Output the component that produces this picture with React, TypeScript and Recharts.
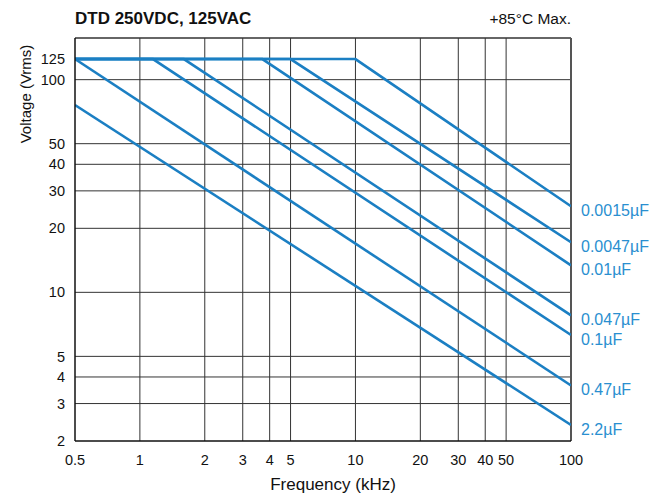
import { LineChart, Line, XAxis, YAxis, CartesianGrid, ReferenceLine, LabelList } from "recharts";

// capacitance series: flat at max voltage up to the knee, then rolling off to 100 kHz
const capacitances = ["0.0015µF", "0.0047µF", "0.01µF", "0.047µF", "0.1µF", "0.47µF", "2.2µF"];
const startVoltages = [125, 125, 125, 125, 125, 125, 76];
const kneeFrequencies = [10, 5, 3.7, 1.6, 1.15, 0.5, 0.5];
const endVoltages = [25.4, 17.2, 13.4, 7.8, 6.3, 3.65, 2.38];

const freqTicks = [0.5, 1, 2, 3, 4, 5, 10, 20, 30, 40, 50, 100];
const freqGrid = [1, 2, 3, 4, 5, 10, 20, 30, 40, 50];
const voltTicks = [2, 3, 4, 5, 10, 20, 30, 40, 50, 100, 125];
const voltGrid = [3, 4, 5, 10, 20, 30, 40, 50, 100];

const F_MIN = 0.5;
const F_MAX = 100;
const V_MIN = 2;
const V_MAX = 157;

const BLUE = "#1b7fc3";
const FONT = "'Liberation Sans', Arial, sans-serif";

const series = capacitances.map((name, i) => ({
  name,
  points: [
    { f: F_MIN, v: startVoltages[i] },
    { f: kneeFrequencies[i], v: startVoltages[i] },
    { f: F_MAX, v: endVoltages[i] },
  ],
}));

const endLabel = (name: string) => (props: any) => {
  const { x, y, index } = props;
  if (index !== 2) return null;
  return (
    <text x={x + 10} y={y + 10} fill="#2a8fd0" fontSize={16} fontFamily={FONT}>
      {name}
    </text>
  );
};

export default function App() {
  return (
    <div style={{ position: "absolute", left: 0, top: 0, width: 664, height: 496, background: "#fff", fontFamily: FONT }}>
      <div style={{ position: "absolute", left: 75, top: 19, fontSize: 17, fontWeight: "bold", color: "#111", transform: "translateY(-50%)", whiteSpace: "nowrap" }}>
        DTD 250VDC, 125VAC
      </div>
      <div style={{ position: "absolute", right: 93, top: 19, fontSize: 15.5, color: "#111", transform: "translateY(-50%)", whiteSpace: "nowrap" }}>
        +85°C Max.
      </div>
      <div
        style={{
          position: "absolute",
          left: 25,
          top: 94,
          fontSize: 15,
          color: "#111",
          whiteSpace: "nowrap",
          transform: "translate(-50%, -50%) rotate(-90deg)",
        }}
      >
        Voltage (Vrms)
      </div>
      <div style={{ position: "absolute", left: 333, top: 485, fontSize: 17, color: "#111", transform: "translate(-50%, -50%)", whiteSpace: "nowrap" }}>
        Frequency (kHz)
      </div>
      <LineChart width={664} height={496} margin={{ top: 38, right: 93, bottom: 0, left: 30 }}>
        <CartesianGrid
          stroke="#333"
          strokeWidth={1}
          horizontalValues={voltGrid}
          verticalValues={freqGrid}
        />
        <XAxis
          dataKey="f"
          type="number"
          scale="log"
          domain={[F_MIN, F_MAX]}
          ticks={freqTicks}
          interval={0}
          allowDataOverflow
          tickLine={false}
          tickMargin={8}
          axisLine={{ stroke: "#111", strokeWidth: 1.5 }}
          tick={{ fill: "#111", fontSize: 14.5, fontFamily: FONT }}
          height={55}
        />
        <YAxis
          type="number"
          scale="log"
          domain={[V_MIN, V_MAX]}
          ticks={voltTicks}
          interval={0}
          allowDataOverflow
          tickLine={false}
          tickMargin={4}
          axisLine={{ stroke: "#111", strokeWidth: 1.5 }}
          tick={{ fill: "#111", fontSize: 14.5, fontFamily: FONT }}
          width={45}
        />
        <ReferenceLine y={V_MAX} stroke="#333" strokeWidth={1.5} />
        <ReferenceLine x={F_MAX} stroke="#555" strokeWidth={2} />
        {series.map((s) => (
          <Line
            key={s.name}
            data={s.points}
            dataKey="v"
            type="linear"
            stroke={BLUE}
            strokeWidth={2.6}
            dot={false}
            isAnimationActive={false}
          >
            <LabelList dataKey="v" content={endLabel(s.name)} />
          </Line>
        ))}
      </LineChart>
    </div>
  );
}
